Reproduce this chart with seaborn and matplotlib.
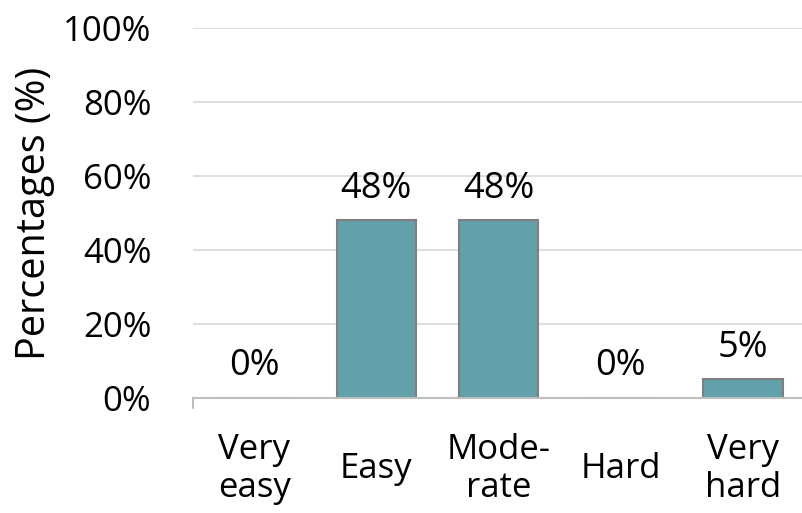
import matplotlib
matplotlib.use('Agg')
import matplotlib.pyplot as plt
import seaborn as sns
import pandas as pd

# difficulty ratings, share of respondents (%)
categories = ['Very\neasy', 'Easy', 'Mode-\nrate', 'Hard', 'Very\nhard']
values = [0, 48, 48, 0, 5]
value_labels = ['0%', '48%', '48%', '0%', '5%']
yticks = [0, 20, 40, 60, 80, 100]

sns.set_theme(style='white')
plt.rcParams['font.family'] = ['Open Sans', 'DejaVu Sans']
plt.rcParams['text.color'] = 'black'

df = pd.DataFrame({'cat': categories, 'pct': values})

fig = plt.figure(figsize=(8.02, 5.13), dpi=100)
ax = fig.add_axes([0.2406, 0.2242, 0.762, 0.7212])

sns.barplot(data=df, x='cat', y='pct', color='#62a0aa', saturation=1,
            width=0.65, edgecolor='#7f7f7f', linewidth=1.5, ax=ax, zorder=3)

ax.set_xlim(-0.5, 4.5)
ax.set_ylim(0, 100)
ax.set_yticks(yticks)
ax.set_yticklabels(['{}%'.format(t) for t in yticks], fontsize=25, color='black')
ax.yaxis.grid(True, color='#d9d9d9', linewidth=1.2, zorder=0)
ax.tick_params(axis='y', length=0, pad=30)
ax.tick_params(axis='x', length=0, pad=51, labelsize=25, labelcolor='black')
for lab in ax.get_xticklabels():
    lab.set_va('center')
    lab.set_linespacing(1.15)

for s in ['top', 'right', 'left']:
    ax.spines[s].set_visible(False)
ax.spines['bottom'].set_color('#bfbfbf')
ax.spines['bottom'].set_linewidth(1.5)
ax.spines['bottom'].set_zorder(4)

# small tick at the left end of the category axis
ax.plot([-0.5, -0.5], [0, -2.7], color='#bfbfbf', lw=1.5, clip_on=False)

for i, (v, t) in enumerate(zip(values, value_labels)):
    ax.annotate(t, (i, v), xytext=(0, 10), textcoords='offset points',
                ha='center', va='bottom', fontsize=26, color='black')

ax.set_xlabel('')
ax.set_ylabel('Percentages (%)', fontsize=28.5, color='black')
ax.yaxis.set_label_coords(-0.226, 0.5)

fig.savefig('out.png', dpi=100)
